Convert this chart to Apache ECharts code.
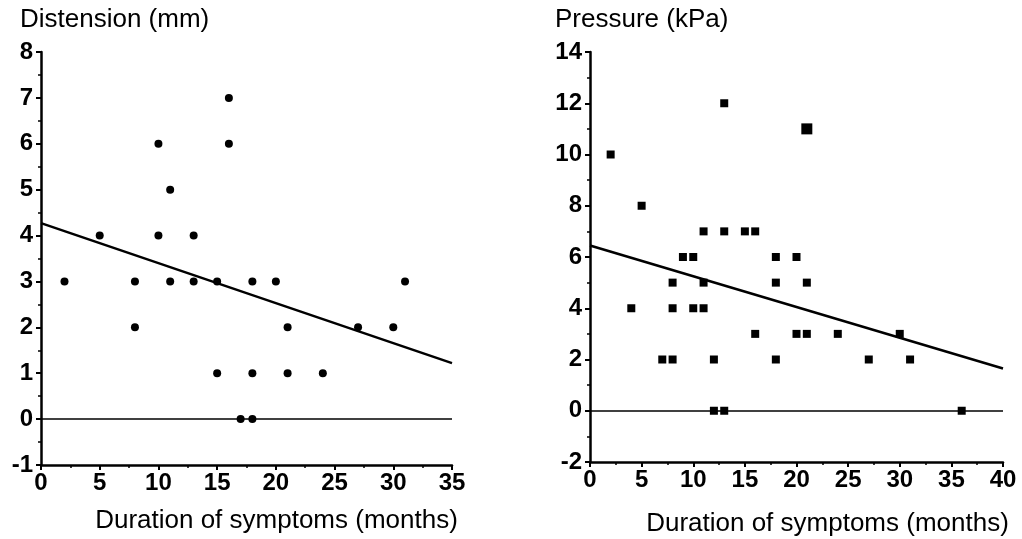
<!DOCTYPE html>
<html><head><meta charset="utf-8">
<script src="https://cdn.jsdelivr.net/npm/echarts@6/dist/echarts.min.js"></script>
<style>html,body{margin:0;padding:0;background:#fff}#c{width:1022px;height:539px}</style>
</head><body><div id="c"></div>
<script>
// Left panel: Distension (mm) vs duration (months)
const distX = [16, 16, 10, 11, 5, 10, 13, 2, 8, 11, 13, 15, 18, 20, 31, 8, 21, 27, 30, 15, 18, 21, 24, 17, 18];
const distY = [7, 6, 6, 5, 4, 4, 4, 3, 3, 3, 3, 3, 3, 3, 3, 2, 2, 2, 2, 1, 1, 1, 1, 0, 0];
const distFitX = [0, 35];
const distFitY = [4.27, 1.22];
// Right panel: Pressure (kPa) vs duration (months)
const presX = [2, 5, 13, 21, 11, 13, 15, 16, 9, 10, 18, 20, 8, 11, 18, 21, 4, 8, 10, 11, 16, 20, 21, 24, 30, 7, 8, 12, 18, 27, 31, 12, 13, 36];
const presY = [10, 8, 12, 11, 7, 7, 7, 7, 6, 6, 6, 6, 5, 5, 5, 5, 4, 4, 4, 4, 3, 3, 3, 3, 3, 2, 2, 2, 2, 2, 2, 0, 0, 0];
const presFitX = [0, 40];
const presFitY = [6.45, 1.65];

const font = '"Liberation Sans", Arial, Helvetica, sans-serif';
const zip = (a, b) => a.map((v, i) => [v, b[i]]);

function xAxis(idx, max, shift, gap) {
  return {
    gridIndex: idx, type: 'value', min: 0, max: max, interval: 5,
    name: 'Duration of symptoms (months)', nameLocation: 'middle',
    nameGap: gap,
    nameTextStyle: { fontFamily: font, fontSize: 26, color: '#000', padding: [0, 0, 0, shift * 2] },
    axisLine: { onZero: false, lineStyle: { color: '#000', width: 2.5 } },
    axisTick: { show: true, length: 5, lineStyle: { color: '#000', width: 2 } },
    minorTick: { show: true, splitNumber: 2, length: 3, lineStyle: { color: '#000', width: 1.5 } },
    axisLabel: { fontFamily: font, fontSize: 24, fontWeight: 'bold', color: '#000', margin: 6 },
    splitLine: { show: false }
  };
}
function yAxis(idx, min, max, interval, name, nameShift) {
  return {
    gridIndex: idx, type: 'value', min: min, max: max, interval: interval,
    name: name, nameLocation: 'end', nameGap: 32,
    nameTextStyle: { fontFamily: font, fontSize: 26, color: '#000', align: 'left', verticalAlign: 'middle', padding: [0, 0, 0, nameShift] },
    axisLine: { show: true, onZero: false, lineStyle: { color: '#000', width: 2.5 } },
    axisTick: { show: true, length: 5, lineStyle: { color: '#000', width: 2 } },
    minorTick: { show: true, splitNumber: 2, length: 3, lineStyle: { color: '#000', width: 1.5 } },
    axisLabel: { fontFamily: font, fontSize: 24, fontWeight: 'bold', color: '#000', margin: 8 },
    splitLine: { show: false }
  };
}
const zeroLine = {
  silent: true, symbol: 'none', label: { show: false },
  lineStyle: { color: '#000', width: 1.5, type: 'solid' },
  emphasis: { disabled: true },
  data: [{ yAxis: 0 }]
};

const chart = echarts.init(document.getElementById('c'), null, { renderer: 'canvas' });
chart.setOption({
  animation: false,
  backgroundColor: '#fff',
  grid: [
    { left: 41, right: 570, top: 52, bottom: 74, containLabel: false, outerBoundsMode: 'none' },
    { left: 590, right: 19, top: 52, bottom: 77, containLabel: false, outerBoundsMode: 'none' }
  ],
  xAxis: [xAxis(0, 35, 30, 43), xAxis(1, 40, 31, 49)],
  yAxis: [yAxis(0, -1, 8, 1, 'Distension (mm)', -21), yAxis(1, -2, 14, 2, 'Pressure (kPa)', -35)],
  series: [
    { type: 'scatter', xAxisIndex: 0, yAxisIndex: 0, data: zip(distX, distY), symbol: 'circle', symbolSize: 8,
      itemStyle: { color: '#000', opacity: 1 }, markLine: zeroLine, z: 3 },
    { type: 'line', xAxisIndex: 0, yAxisIndex: 0, data: zip(distFitX, distFitY), symbol: 'none',
      lineStyle: { color: '#000', width: 2.5 } },
    { type: 'scatter', xAxisIndex: 1, yAxisIndex: 1, data: zip(presX, presY), symbol: 'rect',
      symbolSize: (v) => (v[0] === 21 && v[1] === 11) ? 11 : 8,
      itemStyle: { color: '#000', opacity: 1 }, markLine: zeroLine, z: 3 },
    { type: 'line', xAxisIndex: 1, yAxisIndex: 1, data: zip(presFitX, presFitY), symbol: 'none',
      lineStyle: { color: '#000', width: 2.5 } }
  ]
});
</script></body></html>
